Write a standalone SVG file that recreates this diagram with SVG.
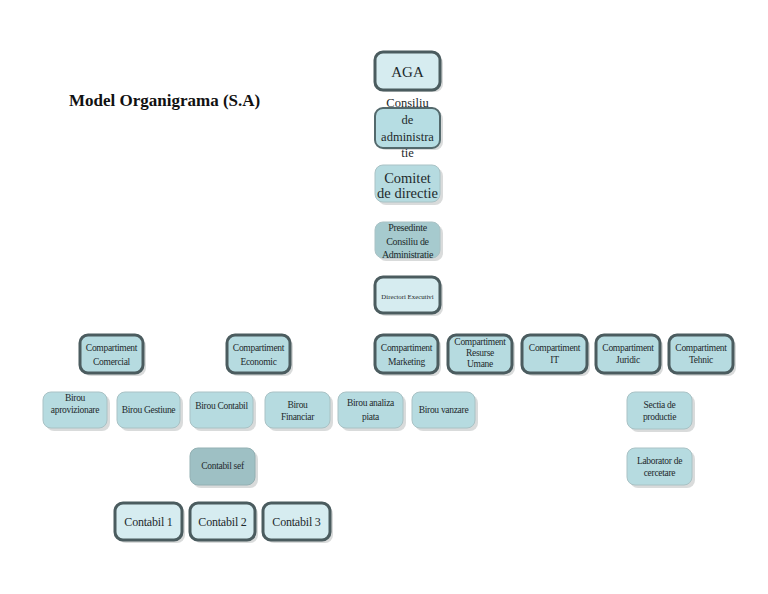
<svg xmlns="http://www.w3.org/2000/svg" width="768" height="594" viewBox="0 0 768 594">
<style>
.sh{fill:#c9cccc;opacity:0.7}
.thick{stroke:#4b5c5f;stroke-width:3}
.thin{stroke:#a9c2c5;stroke-width:1}
.light{fill:#d6ecf0}
.mid{fill:#b6dbe0}
.dark{fill:#a6cace}
text{font-family:"Liberation Serif","DejaVu Serif",serif;fill:#1e2a2c;text-anchor:middle;dominant-baseline:central}
.t9{font-size:9.5px;letter-spacing:-0.3px}
.t11{font-size:12px;letter-spacing:-0.2px}
</style>
<rect width="768" height="594" fill="#ffffff"/>
<text x="69" y="100" style="font-size:17px;font-weight:bold;text-anchor:start;fill:#111">Model Organigrama (S.A)</text>
<g id="connectors"></g>

<g id="aga">
<rect class="sh" x="378" y="55" width="65" height="37" rx="8"/>
<rect class="thick light" x="375" y="52" width="65" height="38" rx="8"/>
<text x="407.5" y="72" style="font-size:15px">AGA</text>
</g>
<g id="consiliu">
<rect class="sh" x="378" y="111" width="65" height="39" rx="8"/>
<rect x="375" y="108" width="65" height="40" rx="8" fill="#b6dde3" stroke="#53696c" stroke-width="2"/>
<text x="407.5" y="103" style="font-size:12.5px">Consiliu</text>
<text x="407.5" y="120" style="font-size:12.5px">de</text>
<text x="407.5" y="137" style="font-size:12.5px">administra</text>
<text x="407.5" y="153" style="font-size:12.5px">tie</text>
</g>
<g id="comitet">
<rect class="sh" x="378" y="168" width="65" height="37" rx="8"/>
<rect class="thin mid" x="375" y="165" width="65" height="37" rx="8"/>
<text x="407.5" y="178" style="font-size:14.5px">Comitet</text>
<text x="407.5" y="193" style="font-size:14.5px">de directie</text>
</g>
<g id="presedinte">
<rect class="sh" x="378" y="225" width="65" height="36" rx="8"/>
<rect class="thin dark" x="375" y="222" width="65" height="36" rx="8"/>
<text x="407.5" y="227" style="font-size:10px;letter-spacing:-0.3px">Presedinte</text>
<text x="407.5" y="241" style="font-size:10px;letter-spacing:-0.3px">Consiliu de</text>
<text x="407.5" y="254" style="font-size:10px;letter-spacing:-0.3px">Administratie</text>
</g>
<g id="directori">
<rect class="sh" x="378" y="280" width="65" height="36" rx="8"/>
<rect class="thick light" x="375" y="277" width="65" height="36" rx="8"/>
<text x="407.5" y="296" style="font-size:6.8px">Directori Executivi</text>
</g>

<g id="comp-comercial">
<rect class="sh" x="83" y="338" width="63" height="38" rx="8"/>
<rect class="thick mid" x="80" y="335" width="63" height="38" rx="8"/>
<text x="111.5" y="348" class="t9">Compartiment</text>
<text x="111.5" y="362" class="t9">Comercial</text>
</g>
<g id="comp-economic">
<rect class="sh" x="230" y="338" width="63" height="38" rx="8"/>
<rect class="thick mid" x="227" y="335" width="63" height="38" rx="8"/>
<text x="258.5" y="348" class="t9">Compartiment</text>
<text x="258.5" y="362" class="t9">Economic</text>
</g>
<g id="comp-marketing">
<rect class="sh" x="378" y="338" width="63" height="38" rx="8"/>
<rect class="thick mid" x="375" y="335" width="63" height="38" rx="8"/>
<text x="406.5" y="348" class="t9">Compartiment</text>
<text x="406.5" y="362" class="t9">Marketing</text>
</g>
<g id="comp-resurse">
<rect class="sh" x="451" y="338" width="64" height="38" rx="8"/>
<rect class="thick mid" x="448" y="335" width="64" height="38" rx="8"/>
<text x="480" y="342" class="t9">Compartiment</text>
<text x="480" y="353" class="t9">Resurse</text>
<text x="480" y="364" class="t9">Umane</text>
</g>
<g id="comp-it">
<rect class="sh" x="525" y="338" width="65" height="38" rx="8"/>
<rect class="thick mid" x="522" y="335" width="65" height="38" rx="8"/>
<text x="554.5" y="348" class="t9">Compartiment</text>
<text x="554.5" y="360" class="t9">IT</text>
</g>
<g id="comp-juridic">
<rect class="sh" x="599" y="338" width="64" height="38" rx="8"/>
<rect class="thick mid" x="596" y="335" width="64" height="38" rx="8"/>
<text x="628" y="348" class="t9">Compartiment</text>
<text x="628" y="360" class="t9">Juridic</text>
</g>
<g id="comp-tehnic">
<rect class="sh" x="672" y="338" width="64" height="38" rx="8"/>
<rect class="thick mid" x="669" y="335" width="64" height="38" rx="8"/>
<text x="701" y="348" class="t9">Compartiment</text>
<text x="701" y="360" class="t9">Tehnic</text>
</g>

<g id="birou-aprovizionare">
<rect class="sh" x="46" y="395" width="64" height="36" rx="8"/>
<rect class="thin mid" x="43" y="392" width="64" height="36" rx="8"/>
<text x="75" y="398" class="t9">Birou</text>
<text x="75" y="410" class="t9">aprovizionare</text>
</g>
<g id="birou-gestiune">
<rect class="sh" x="120" y="395" width="63" height="36" rx="8"/>
<rect class="thin mid" x="117" y="392" width="63" height="36" rx="8"/>
<text x="148.5" y="410" class="t9">Birou Gestiune</text>
</g>
<g id="birou-contabil">
<rect class="sh" x="193" y="395" width="63" height="36" rx="8"/>
<rect class="thin mid" x="190" y="392" width="63" height="36" rx="8"/>
<text x="221.5" y="406" class="t9">Birou Contabil</text>
</g>
<g id="birou-financiar">
<rect class="sh" x="268" y="395" width="65" height="36" rx="8"/>
<rect class="thin mid" x="265" y="392" width="65" height="36" rx="8"/>
<text x="297.5" y="405" class="t9">Birou</text>
<text x="297.5" y="417" class="t9">Financiar</text>
</g>
<g id="birou-analiza">
<rect class="sh" x="341" y="395" width="65" height="36" rx="8"/>
<rect class="thin mid" x="338" y="392" width="65" height="36" rx="8"/>
<text x="370.5" y="403" class="t9">Birou analiza</text>
<text x="370.5" y="417" class="t9">piata</text>
</g>
<g id="birou-vanzare">
<rect class="sh" x="415" y="395" width="63" height="36" rx="8"/>
<rect class="thin mid" x="412" y="392" width="63" height="36" rx="8"/>
<text x="443.5" y="410" class="t9">Birou vanzare</text>
</g>
<g id="sectia-productie">
<rect class="sh" x="630" y="395" width="65" height="37" rx="8"/>
<rect class="thin mid" x="627" y="392" width="65" height="37" rx="8"/>
<text x="659.5" y="405" class="t9">Sectia de</text>
<text x="659.5" y="417" class="t9">productie</text>
</g>
<g id="laborator">
<rect class="sh" x="630" y="451" width="65" height="37" rx="8"/>
<rect class="thin mid" x="627" y="448" width="65" height="37" rx="8"/>
<text x="659.5" y="461" class="t9">Laborator de</text>
<text x="659.5" y="473" class="t9">cercetare</text>
</g>

<g id="contabil-sef">
<rect class="sh" x="193" y="451" width="65" height="37" rx="8"/>
<rect x="190" y="448" width="65" height="37" rx="8" fill="#9ec0c4" stroke="#93b0b3" stroke-width="1"/>
<text x="222.5" y="466" class="t9">Contabil sef</text>
</g>
<g id="contabil-1">
<rect class="sh" x="118" y="506" width="67" height="37" rx="8"/>
<rect class="thick light" x="115" y="503" width="67" height="37" rx="8"/>
<text x="148.5" y="522" class="t11">Contabil 1</text>
</g>
<g id="contabil-2">
<rect class="sh" x="193" y="506" width="65" height="37" rx="8"/>
<rect class="thick light" x="190" y="503" width="65" height="37" rx="8"/>
<text x="222.5" y="522" class="t11">Contabil 2</text>
</g>
<g id="contabil-3">
<rect class="sh" x="266" y="506" width="67" height="37" rx="8"/>
<rect class="thick light" x="263" y="503" width="67" height="37" rx="8"/>
<text x="296.5" y="522" class="t11">Contabil 3</text>
</g>
</svg>
